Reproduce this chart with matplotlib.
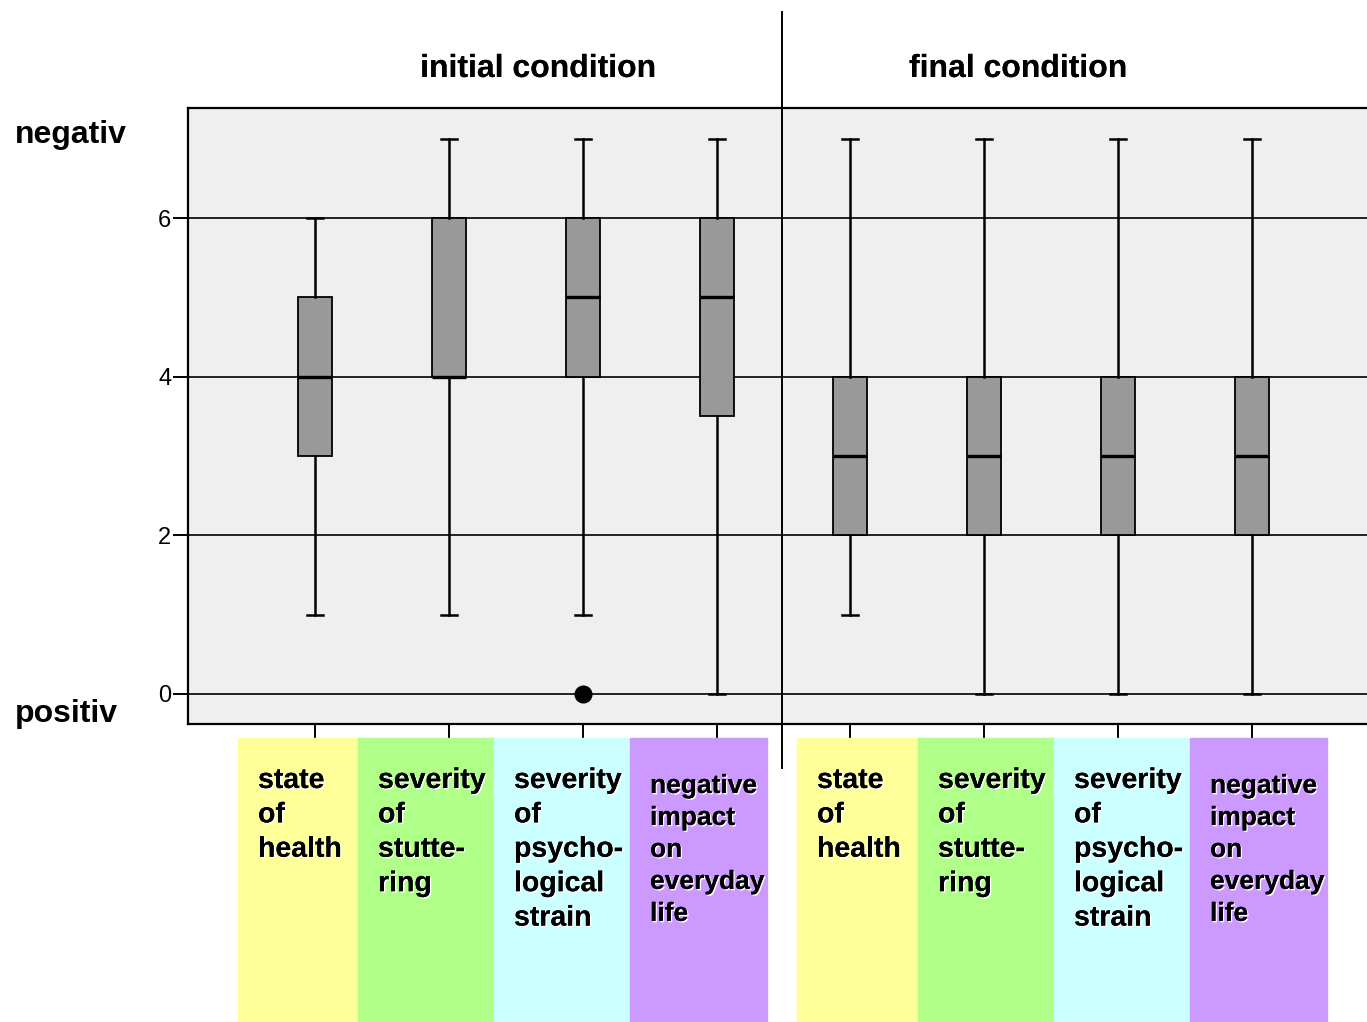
import matplotlib.pyplot as plt
import matplotlib.patheffects as pe
from matplotlib.patches import Rectangle
from matplotlib.lines import Line2D

plt.rcParams['font.family'] = ['Liberation Sans', 'DejaVu Sans']

# one box per scale, initial then final condition
labels = ['state\nof\nhealth', 'severity\nof\nstutte-\nring',
          'severity\nof\npsycho-\nlogical\nstrain', 'negative\nimpact\non\neveryday\nlife']
whislo = [1, 1, 1, 0, 1, 0, 0, 0]
q1 = [3, 4, 4, 3.5, 2, 2, 2, 2]
med = [4, 4, 5, 5, 3, 3, 3, 3]
q3 = [5, 6, 6, 6, 4, 4, 4, 4]
whishi = [6, 7, 7, 7, 7, 7, 7, 7]
fliers = [[], [], [0], [], [], [], [], []]
yticks = [0, 2, 4, 6]
panel_colors = ['#ffff99', '#b0ff88', '#ccffff', '#cc99ff']

stats = []
for i in range(8):
    stats.append(dict(whislo=whislo[i], q1=q1[i], med=med[i], q3=q3[i],
                      whishi=whishi[i], fliers=fliers[i]))

W, H = 1367, 1022
fig = plt.figure(figsize=(W / 100, H / 100), dpi=100)
ax = fig.add_axes([188 / W, 1 - 724 / H, 1 - 188 / W, (724 - 108) / H])
ax.set_facecolor('#efefef')

pos = list(range(1, 9))
ax.bxp(stats, positions=pos, widths=0.254, capwidths=0.12, patch_artist=True,
       boxprops=dict(facecolor='#999999', edgecolor='black', linewidth=1.3),
       medianprops=dict(color='black', linewidth=2.4),
       whiskerprops=dict(color='black', linewidth=1.8),
       capprops=dict(color='black', linewidth=1.8),
       flierprops=dict(marker='o', markerfacecolor='black', markeredgecolor='black',
                       markersize=12))

ax.set_xlim(1 - 127 / 133.86, 1 + (W - 315) / 133.86)
ax.set_ylim(-30 / 79.33, 586 / 79.33)
ax.set_yticks(yticks)
ax.set_yticklabels([str(t) for t in yticks], fontsize=17)
ax.set_xticks(pos)
ax.set_xticklabels([])
ax.tick_params(axis='y', length=11, width=1.4, pad=1)
ax.tick_params(axis='x', length=10, width=1.4)
ax.yaxis.grid(True, color='black', linewidth=1.2)
ax.set_axisbelow(True)
for s in ['left', 'top', 'bottom']:
    ax.spines[s].set_linewidth(1.6)
ax.spines['right'].set_visible(False)

shadow = [pe.withSimplePatchShadow(offset=(1, -1), shadow_rgbFace='white', alpha=1), pe.Normal()]

# colored category panels below the axis
edges = [[238, 358, 494, 630, 767], [797, 918, 1054, 1190, 1327]]
for grp in edges:
    for k in range(4):
        x0, x1 = grp[k], grp[k + 1]
        fig.patches.append(Rectangle((x0 / W, 0), (x1 - x0) / W, 1 - 738 / H,
                                     transform=fig.transFigure, color=panel_colors[k], zorder=0))
        small = k == 3
        fig.text((x0 + 20) / W, 1 - (768 if not small else 774) / H, labels[k],
                 fontsize=19 if small else 20.5, fontweight='bold', va='top', ha='left',
                 linespacing=1.42 if small else 1.42, path_effects=shadow)

# divider between the two conditions
fig.add_artist(Line2D([782 / W, 782 / W], [1 - 12 / H, 1 - 768 / H], color='black', linewidth=1.4))

fig.text(538 / W, 1 - 69 / H, 'initial condition', fontsize=23, fontweight='bold',
         ha='center', va='center', path_effects=shadow)
fig.text(1018 / W, 1 - 69 / H, 'final condition', fontsize=23, fontweight='bold',
         ha='center', va='center', path_effects=shadow)
fig.text(15 / W, 1 - 135 / H, 'negativ', fontsize=23, fontweight='bold', ha='left', va='center')
fig.text(15 / W, 1 - 714 / H, 'positiv', fontsize=23, fontweight='bold', ha='left', va='center')

fig.savefig('out.png', dpi=100)
